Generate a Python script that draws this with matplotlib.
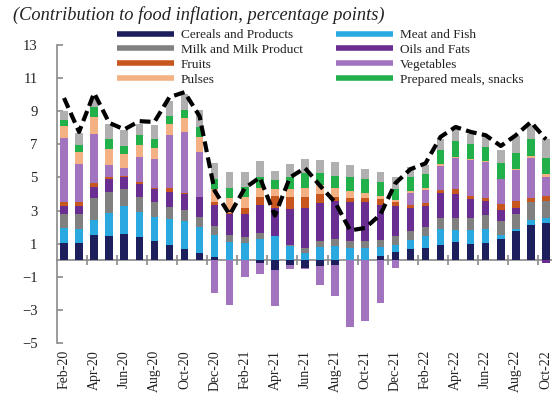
import matplotlib
matplotlib.use("Agg")
import matplotlib.pyplot as plt
from matplotlib.lines import Line2D
import numpy as np

plt.rcParams["font.family"] = ["Liberation Serif", "DejaVu Serif"]

months = ["Feb-20", "Mar-20", "Apr-20", "May-20", "Jun-20", "Jul-20", "Aug-20", "Sep-20",
          "Oct-20", "Nov-20", "Dec-20", "Jan-21", "Feb-21", "Mar-21", "Apr-21", "May-21",
          "Jun-21", "Jul-21", "Aug-21", "Sep-21", "Oct-21", "Nov-21", "Dec-21", "Jan-22",
          "Feb-22", "Mar-22", "Apr-22", "May-22", "Jun-22", "Jul-22", "Aug-22", "Sep-22",
          "Oct-22"]

cereals = [1.04, 1.04, 1.54, 1.46, 1.60, 1.38, 1.18, 0.94, 0.68, 0.44, 0.18, 0.00, 0.00,
           -0.15, -0.62, -0.26, -0.46, -0.32, -0.26, 0.00, 0.00, 0.28, 0.48, 0.68, 0.74,
           0.94, 1.10, 0.98, 1.04, 1.28, 1.78, 2.14, 2.24]
meat_fish = [0.90, 0.84, 0.86, 1.42, 1.68, 1.56, 1.46, 1.54, 1.66, 1.54, 1.32, 1.10, 1.04,
             1.30, 1.44, 0.84, 0.44, 0.80, 0.84, 0.74, 0.74, 0.52, 0.46, 0.52, 0.70,
             0.94, 0.70, 0.82, 0.84, 0.26, 0.10, 0.30, 0.34]
milk = [0.86, 0.92, 1.34, 1.26, 1.00, 0.90, 0.86, 0.76, 0.70, 0.66, 0.54, 0.40, 0.34,
        0.34, 0.05, 0.10, 0.30, 0.38, 0.44, 0.44, 0.40, 0.44, 0.50, 0.54, 0.56,
        0.66, 0.78, 0.78, 0.86, 0.84, 0.90, 1.06, 1.02]
oils_fats = [0.50, 0.50, 0.68, 0.76, 0.72, 0.76, 0.80, 0.90, 0.96, 1.16, 1.30, 1.28, 1.40,
             1.70, 1.64, 2.14, 2.40, 2.26, 2.30, 2.36, 2.36, 2.10, 1.84, 1.44, 1.28,
             1.50, 1.44, 1.12, 0.84, 0.66, 0.40, 0.00, -0.16]
fruits = [0.24, 0.24, 0.22, 0.14, 0.08, 0.10, 0.08, 0.20, 0.04, 0.02, 0.20, 0.10, 0.36,
          0.46, 0.76, 0.76, 0.70, 0.54, 0.26, 0.20, 0.28, 0.34, 0.22, 0.16, 0.16,
          0.20, 0.28, 0.20, 0.20, 0.36, 0.42, 0.28, 0.30]
vegetables = [3.83, 2.26, 3.00, 0.74, 0.52, 1.54, 1.72, 3.24, 3.70, 2.74, -2.00, -2.70, -1.00,
              -0.66, -2.14, -0.30, -0.10, -1.18, -1.90, -4.06, -3.70, -2.56, -0.46, 0.70, 0.80,
              1.46, 1.88, 2.14, 2.16, 1.48, 1.84, 2.40, 1.14]
pulses = [0.76, 0.74, 1.00, 0.96, 0.80, 0.74, 0.68, 0.66, 0.86, 0.90, 0.76, 0.86, 0.70,
          0.54, 0.44, 0.46, 0.54, 0.56, 0.54, 0.44, 0.30, 0.20, 0.14, 0.14, 0.14,
          0.14, 0.06, 0.06, 0.06, 0.04, 0.10, 0.12, 0.14]
prepared = [0.36, 0.40, 0.60, 0.56, 0.50, 0.56, 0.52, 0.50, 0.50, 0.56, 0.58, 0.64, 0.60,
            0.70, 0.50, 0.74, 0.86, 0.70, 0.72, 0.86, 0.82, 0.82, 0.66, 0.86, 0.80,
            0.80, 0.94, 0.90, 0.84, 0.96, 0.96, 1.00, 1.00]
others = [0.54, 0.76, 0.60, 0.94, 0.94, 0.70, 0.88, 0.90, 0.94, 1.04, 1.00, 0.96, 0.90,
          0.96, 0.56, 0.80, 0.86, 0.80, 0.84, 0.70, 0.64, 0.64, 0.74, 0.60, 0.60,
          0.70, 0.76, 0.64, 0.64, 0.80, 1.00, 0.88, 1.12]

food_inflation = [9.8, 7.75, 10.1, 8.3, 7.9, 8.4, 8.35, 9.85, 10.15, 8.7, 4.2, 2.75, 4.35,
                  5.0, 2.7, 5.0, 5.57, 4.5, 3.5, 1.8, 1.95, 2.75, 4.65, 5.5, 5.85,
                  7.45, 8.05, 7.75, 7.55, 6.9, 7.55, 8.35, 7.3]

# stacking order (bottom to top), colours and legend labels
series = [
    ("Cereals and Products", cereals, "#1c1f5b"),
    ("Meat and Fish", meat_fish, "#29a9e0"),
    ("Milk and Milk Product", milk, "#808080"),
    ("Oils and Fats", oils_fats, "#6a2d91"),
    ("Fruits", fruits, "#c8561f"),
    ("Vegetables", vegetables, "#a273bf"),
    ("Pulses", pulses, "#f3b184"),
    ("Prepared meals, snacks", prepared, "#22b04b"),
    ("Others", others, "#b0b0b0"),
]
legend_order = ["Cereals and Products", "Milk and Milk Product", "Fruits", "Pulses",
                "Meat and Fish", "Oils and Fats", "Vegetables", "Prepared meals, snacks"]

fig = plt.figure(figsize=(5.52, 3.95), dpi=100)
ax = fig.add_axes([57 / 552, 52 / 395, 495 / 552, 298 / 395])

x = np.arange(len(months))
pos = np.zeros(len(months))
neg = np.zeros(len(months))
colors = {}
for name, vals, col in series:
    v = np.array(vals)
    bottom = np.where(v >= 0, pos, neg)
    ax.bar(x, v, 0.5, bottom=bottom, color=col, linewidth=0, zorder=2)
    pos = pos + np.where(v >= 0, v, 0)
    neg = neg + np.where(v < 0, v, 0)
    colors[name] = col

line, = ax.plot(x, food_inflation, color="black", lw=3.0, zorder=3,
                solid_capstyle="butt")
line.set_dashes([2.6, 1.3])
line.set_dash_capstyle("butt")

ax.set_xlim(-0.465, 32.4)
ax.set_ylim(-5, 13)
ax.set_yticks(np.arange(-5, 14, 2))

spine_col = "#8a8a8a"
for s in ["top", "right"]:
    ax.spines[s].set_visible(False)
ax.spines["left"].set_color(spine_col)
ax.spines["left"].set_linewidth(1.2)
ax.spines["bottom"].set_position(("data", 0))
ax.spines["bottom"].set_color(spine_col)
ax.spines["bottom"].set_linewidth(1.2)
ax.spines["bottom"].set_zorder(1)

ax.tick_params(axis="y", direction="in", length=4, width=1.2, color=spine_col,
               labelsize=10.5, pad=14, labelcolor="#222222")
ax.set_xticks([])
ax.set_xticks(np.arange(1.5, len(months) - 1, 2), minor=True)
ax.tick_params(axis="x", which="minor", direction="inout", length=7, width=1.2,
               color=spine_col, labelbottom=False)

sec = ax.secondary_xaxis("bottom")
sec.set_xticks(x[::2], months[::2])
sec.spines["bottom"].set_visible(False)
sec.tick_params(axis="x", length=0, pad=5, labelsize=10, labelrotation=90,
                labelcolor="#222222")

handles = [Line2D([0], [0], color=colors[n], lw=4, solid_capstyle="butt")
           for n in legend_order]
fig.legend(handles, legend_order, ncol=2, loc="upper left",
           bbox_to_anchor=(117 / 552, 1 - 29 / 395), frameon=False, fontsize=9.5,
           handlelength=4.3, handletextpad=0.55, columnspacing=2.5, labelspacing=0.2,
           borderpad=0, borderaxespad=0, labelcolor="#222222")

fig.text(13 / 552, 1 - 15 / 395, "(Contribution to food inflation, percentage points)",
         style="italic", fontsize=13.2, ha="left", va="center", color="#222222")

fig.savefig("out.png", dpi=100)
